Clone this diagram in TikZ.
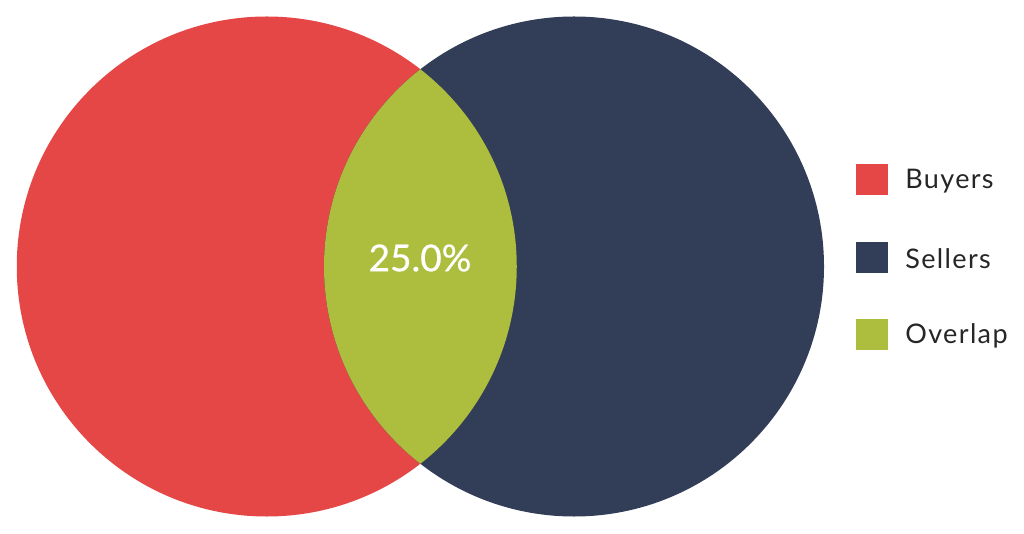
\documentclass[tikz,border=0pt]{standalone}
\usepackage{fontspec}
\setmainfont{Lato}
\newfontfamily\pctfont[FakeBold=0.6]{Lato}
\newfontfamily\keyfont[LetterSpace=5]{Lato}
\usetikzlibrary{positioning}
\definecolor{buyred}{HTML}{E54747}
\definecolor{sellnavy}{HTML}{323D57}
\definecolor{overgrn}{HTML}{ADBD3E}
\tikzset{
  set/.style={circle,fill=#1,minimum size=500pt,inner sep=0pt},
  swatch/.style={rectangle,fill=#1,minimum width=32pt,minimum height=31pt,
                 inner sep=0pt},
  key/.style={font=\keyfont\fontsize{27}{31}\selectfont,text=black!85,
              inner sep=0pt,anchor=west,yshift=-1.5pt},
  pct/.style={font=\pctfont\fontsize{37}{42}\selectfont,text=white,
              inner sep=0pt},
}
\begin{document}
\begin{tikzpicture}[x=1pt,y=1pt]
  \useasboundingbox (0,0) rectangle (1024,533);
  \node[set=buyred]   (buy)  at (266.75,266.5) {};
  \node[set=sellnavy] (sell) at (574,266.5) {};
  \begin{scope}
    \clip (buy.center) circle (250pt);
    \fill[overgrn] (sell.center) circle (250pt);
  \end{scope}
  \node[pct] (share) at (420,275) {25.0\%};

  \node[swatch=buyred]   (kbuy)  at (872,353) {};
  \node[swatch=sellnavy,below=46pt of kbuy]  (ksell) {};
  \node[swatch=overgrn,below=46pt of ksell]  (kover) {};
  \node[key,right=17pt of kbuy.east]  (lbuy)  {Buyers};
  \node[key,right=17pt of ksell.east] (lsell) {Sellers};
  \node[key,right=17pt of kover.east] (lover) {Overlap};
\end{tikzpicture}
\end{document}
